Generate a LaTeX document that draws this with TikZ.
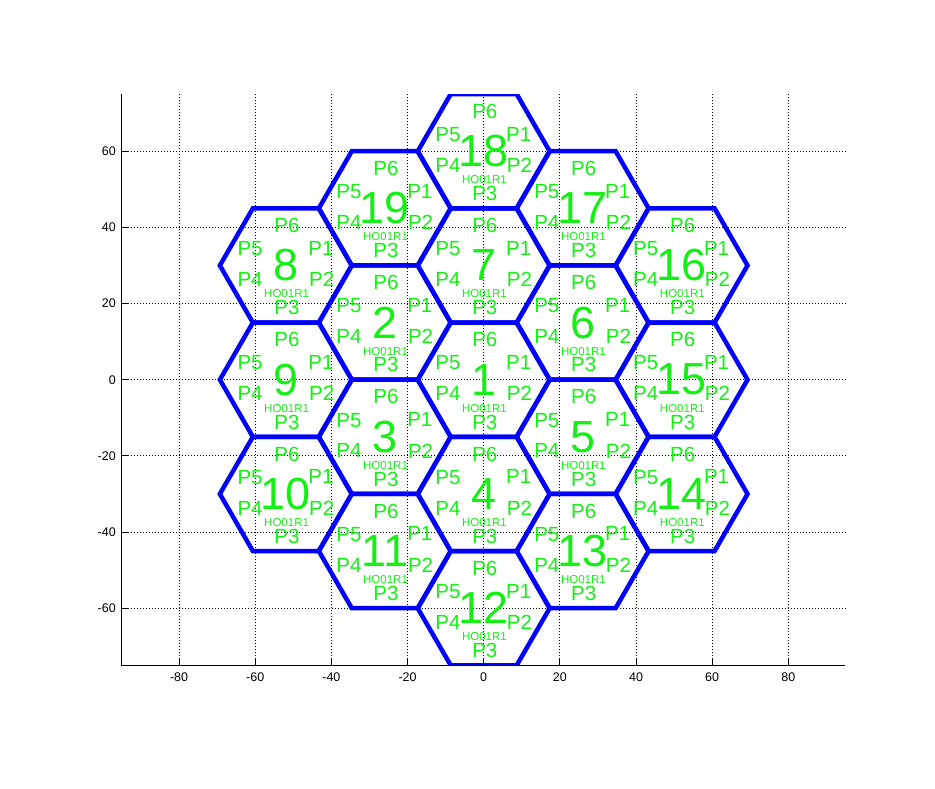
\documentclass[tikz,border=0pt]{standalone}
\usepackage{fontspec}
\setmainfont{Liberation Sans}
\definecolor{hexblue}{RGB}{0,0,255}
\definecolor{labgreen}{RGB}{20,240,20}
\tikzset{
  gridline/.style={line width=0.9pt, dash pattern=on 0.9pt off 2.1pt, black},
  axisline/.style={line width=1pt, black},
  hexcell/.style={line width=4.5pt, hexblue, line join=miter},
  bignum/.style={labgreen, inner sep=0pt, font=\fontsize{45}{45}\selectfont},
  plab/.style={labgreen, inner sep=0pt, font=\fontsize{20.5}{20.5}\selectfont},
  holab/.style={labgreen, inner sep=0pt, font=\fontsize{11.5}{11.5}\selectfont},
  ticklab/.style={inner sep=0pt, font=\fontsize{12.5}{12.5}\selectfont}
}
\begin{document}
\begin{tikzpicture}[x=3.808pt,y=3.808pt]
\useasboundingbox (-127.02,-107.22) rectangle (118.51,99.71);
% grid
\foreach \g in {-80,-60,...,80} \draw[gridline] (\g,-75) -- (\g,75);
\foreach \g in {-60,-40,...,60} \draw[gridline] (-95,\g) -- (95,\g);
% hexagons
\begin{scope}
\clip (-95,-75) rectangle (95,75);
\foreach \i/\cx/\cy in {1/0/0, 2/-25.98/15, 3/-25.98/-15, 4/0/-30, 5/25.98/-15, 6/25.98/15, 7/0/30, 8/-51.96/30, 9/-51.96/0, 10/-51.96/-30, 11/-25.98/-45, 12/0/-60, 13/25.98/-45, 14/51.96/-30, 15/51.96/0, 16/51.96/30, 17/25.98/45, 18/0/60, 19/-25.98/45}
  \draw[hexcell] (\cx+17.3205,\cy) -- (\cx+8.6603,\cy+15) -- (\cx-8.6603,\cy+15) -- (\cx-17.3205,\cy) -- (\cx-8.6603,\cy-15) -- (\cx+8.6603,\cy-15) -- cycle;
\end{scope}
% axes
\draw[axisline] (-95,75) -- (-95,-75) -- (95,-75);
\foreach \g in {-80,-60,...,80} {
  \draw[axisline] (\g,-75) -- (\g,-73.16);
  \node[ticklab] (xt\g) at ([yshift=-11.5pt]\g,-75) {\g};
}
\foreach \g in {-60,-40,...,60} {
  \draw[axisline] (-95,\g) -- (-93.16,\g);
  \node[ticklab, anchor=east] (yt\g) at ([xshift=-6pt]-95,\g) {\g};
}
% labels
\foreach \i/\cx/\cy in {1/0/0, 2/-25.98/15, 3/-25.98/-15, 4/0/-30, 5/25.98/-15, 6/25.98/15, 7/0/30, 8/-51.96/30, 9/-51.96/0, 10/-51.96/-30, 11/-25.98/-45, 12/0/-60, 13/25.98/-45, 14/51.96/-30, 15/51.96/0, 16/51.96/30, 17/25.98/45, 18/0/60, 19/-25.98/45} {
  \node[bignum] (n\i) at (\cx,\cy) {\i};
  \node[plab] (p6c\i) at (\cx+0.3,\cy+10.5) {P6};
  \node[plab] (p5c\i) at (\cx-9.4,\cy+4.4) {P5};
  \node[plab] (p1c\i) at (\cx+9.2,\cy+4.5) {P1};
  \node[plab] (p4c\i) at (\cx-9.4,\cy-3.7) {P4};
  \node[plab] (p2c\i) at (\cx+9.4,\cy-3.7) {P2};
  \node[plab] (p3c\i) at (\cx+0.3,\cy-11.1) {P3};
  \node[holab] (ho\i) at (\cx+0.2,\cy-7.5) {HO01R1};
}
\end{tikzpicture}
\end{document}
